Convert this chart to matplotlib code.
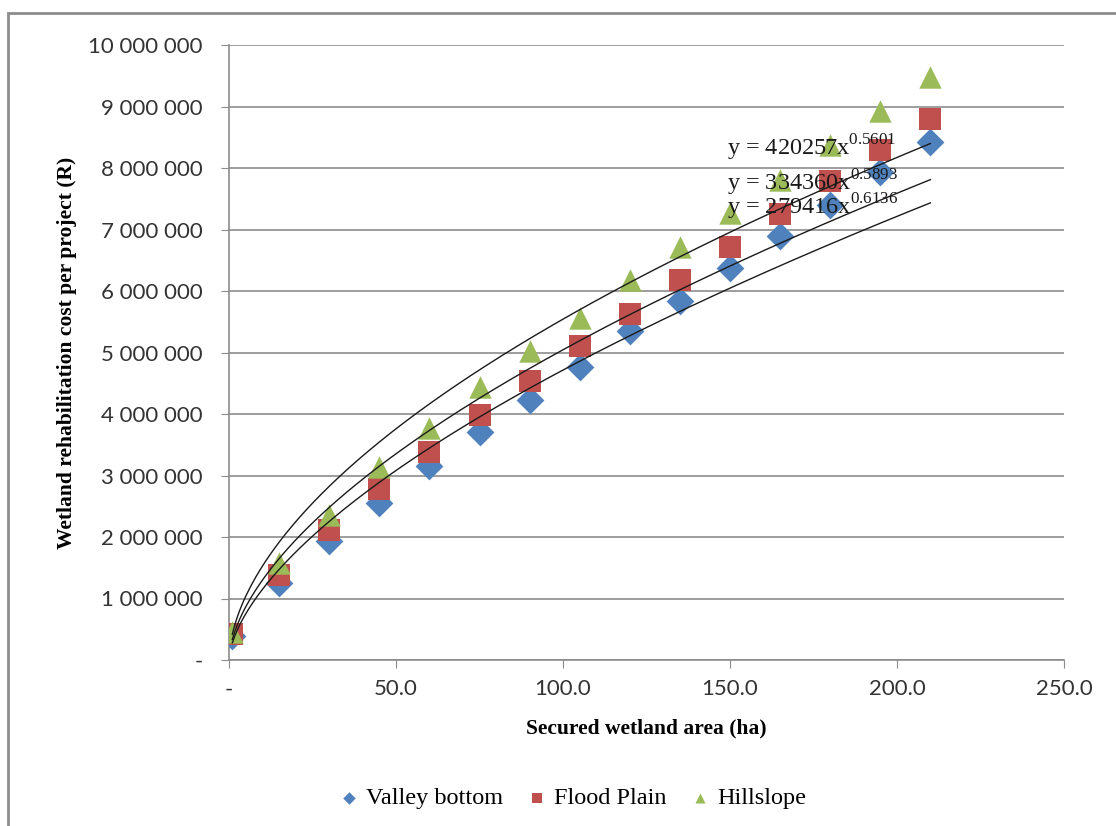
"""Wetland rehabilitation cost vs secured wetland area, with power trendlines."""

import matplotlib

matplotlib.use("Agg")
import matplotlib.pyplot as plt
import numpy as np
from matplotlib.patches import Rectangle
from matplotlib.ticker import FuncFormatter

# Secured area (ha) and project cost (R) per wetland type
area = [1, 15, 30, 45, 60, 75, 90, 105, 120, 135, 150, 165, 180, 195, 210]
valley_bottom = [390000, 1250000, 1930000, 2550000, 3150000, 3700000, 4230000,
                 4760000, 5350000, 5840000, 6370000, 6890000, 7400000, 7930000,
                 8420000]
flood_plain = [420000, 1380000, 2110000, 2780000, 3380000, 3980000, 4540000,
               5100000, 5630000, 6180000, 6720000, 7250000, 7790000, 8290000,
               8800000]
hillslope = [450000, 1580000, 2360000, 3140000, 3770000, 4440000, 5020000,
             5560000, 6180000, 6720000, 7270000, 7800000, 8370000, 8930000,
             9480000]

# Power trendline coefficients shown on the chart: y = a * x^b
trend_a = [420257, 334360, 279416]
trend_b = [0.5601, 0.5893, 0.6136]
trend_label_y = [8200000, 7640000, 7250000]

SERIES = [
    ("Valley bottom", valley_bottom, "D", "#4F81BD"),
    ("Flood Plain", flood_plain, "s", "#C0504D"),
    ("Hillslope", hillslope, "^", "#9BBB59"),
]

SANS = ["Lato", "DejaVu Sans"]
SERIF = ["Liberation Serif", "DejaVu Serif"]
plt.rcParams["mathtext.fontset"] = "custom"
plt.rcParams["mathtext.rm"] = "Liberation Serif"

fig = plt.figure(figsize=(11.16, 8.26), dpi=100)
fig.patches.append(Rectangle((8 / 1116, -0.01), 1.1, 1 - 13 / 826 + 0.01,
                             transform=fig.transFigure, fill=False,
                             edgecolor="#8C8C8C", linewidth=2))
ax = fig.add_axes([229 / 1116, 1 - 660 / 826, (1064 - 229) / 1116, (660 - 45) / 826])

for name, vals, marker, color in SERIES:
    ax.scatter(area, vals, marker=marker, s=260 if marker != "D" else 200,
               color=color, label=name, zorder=3, linewidths=0)

xs = np.linspace(area[0], area[-1], 300)
for a, b, ly in zip(trend_a, trend_b, trend_label_y):
    ax.plot(xs, a * xs ** b, color="#1A1A1A", linewidth=1.0, zorder=4)
    ax.text(149, ly, f"y = {a}x$^{{{b:.4f}}}$", fontsize=17.5, family=SERIF,
            color="#1A1A1A", zorder=5)

ax.set_xlim(0, 250)
ax.set_ylim(0, 10000000)
ax.set_xticks(np.arange(0, 251, 50))
ax.set_yticks(np.arange(0, 10000001, 1000000))
ax.xaxis.set_major_formatter(FuncFormatter(lambda v, p: "-" if v == 0 else f"{v:.1f}"))
ax.yaxis.set_major_formatter(
    FuncFormatter(lambda v, p: "-" if v == 0 else f"{int(v):,}".replace(",", " ")))
for lab in ax.get_xticklabels() + ax.get_yticklabels():
    lab.set_family(SANS)
    lab.set_fontsize(16)
    lab.set_color("#333333")

ax.grid(axis="y", color="#8C8C8C", linewidth=1.2)
ax.set_axisbelow(True)
for side in ("top", "right"):
    ax.spines[side].set_visible(False)
for side in ("left", "bottom"):
    ax.spines[side].set_color("#8C8C8C")
    ax.spines[side].set_linewidth(1.2)
ax.tick_params(axis="both", direction="out", length=6, color="#8C8C8C")
ax.tick_params(axis="y", pad=13)
ax.tick_params(axis="x", pad=8)

ax.set_xlabel("Secured wetland area (ha)", family=SERIF, fontweight="bold",
              fontsize=15.5, labelpad=14)
ax.set_ylabel("Wetland rehabilitation cost per project (R)", family=SERIF,
              fontweight="bold", fontsize=15.5, labelpad=8)

leg = ax.legend(loc="center", bbox_to_anchor=(0.41, -0.225), ncol=3, frameon=False,
                prop={"family": SERIF, "size": 17.5}, handlelength=1.0,
                handletextpad=0.2, columnspacing=0.9, markerscale=0.45)

fig.savefig("out.png", dpi=100)
